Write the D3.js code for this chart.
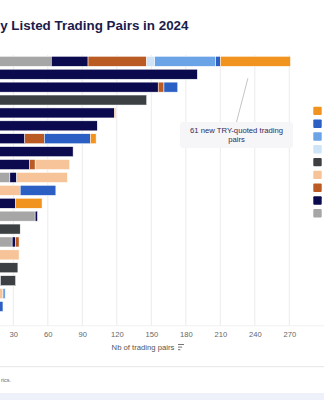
<!DOCTYPE html>
<html>
<head>
<meta charset="utf-8">
<script src="https://cdn.jsdelivr.net/npm/d3@7"></script>
<style>
  body { margin: 0; background: #fff; }
  svg { display: block; font-family: "Liberation Sans", Arial, sans-serif; }
</style>
</head>
<body>
<script>
// categories (labels sit left of the visible area, so they are not drawn)
var rows = ["R1","R2","R3","R4","R5","R6","R7","R8","R9","R10","R11",
            "R12","R13","R14","R15","R16","R17","R18","R19","R20","R21"];

// series, in stacking order from the left
var seriesNames = ["S9","S8","S7","S6","S5","S4","S3","S2","TRY"];
var seriesColors = ["#a6a6a6","#0b0a4f","#b95b23","#f6c498","#3d4043",
                    "#cfe4f7","#6aa3e6","#2b5fc4","#f0931f"];

var s9  = [63,0,0,0,0,0,0,0,0,27,0,0,49,0,29,0,0,0,0,0,0];
var s8  = [32,190,156,0,118,103,40,82,44,6,0,32,2,0,3,0,0,19,0,0,15];
var s7  = [51,0,5,0,0,0,17,0,5,0,0,0,0,0,3,0,0,0,0,0,0];
var s6  = [0,0,0,0,0,0,0,0,30,44,36,0,0,0,0,35,0,0,21,0,0];
var s5  = [0,0,0,146,0,0,0,0,0,0,0,0,0,36,0,0,34,13,0,0,0];
var s4  = [7,0,0,0,0,0,0,0,0,0,0,0,0,0,0,0,0,0,0,0,0];
var s3  = [53,0,0,0,0,0,0,0,0,0,0,0,0,0,0,0,0,0,2,0,0];
var s2  = [4,0,12,0,0,0,40,0,0,0,31,0,0,0,0,0,0,0,0,21,0];
var sTRY = [61,0,0,0,1,0,5,0,0,0,0,23,0,0,0,0,0,0,0,0,0];

var xTicks = [30,60,90,120,150,180,210,240,270];
var legendOrder = ["TRY","S2","S3","S4","S5","S6","S7","S8","S9"];

// the title is cut off at the left edge in the picture
var titleText = "y Listed Trading Pairs in 2024";
var xTitle = "Nb of trading pairs";
var noteLines = ["61 new TRY-quoted trading", "pairs"];
var noteValue = 234;
var sourceText = "rics.";

var width = 324, height = 400;
var plot = {left: -21.2, right: 323.8, top: 54.9, bottom: 325.8};

var table = rows.map(function(r, i) {
  return {row: r, S9: s9[i], S8: s8[i], S7: s7[i], S6: s6[i], S5: s5[i],
          S4: s4[i], S3: s3[i], S2: s2[i], TRY: sTRY[i]};
});

var x = d3.scaleLinear().domain([0, 300]).range([plot.left, plot.right]);
var y = d3.scaleBand().domain(rows).range([plot.top, plot.bottom]).paddingInner(0.225).paddingOuter(0.11);
var color = d3.scaleOrdinal().domain(seriesNames).range(seriesColors);

var svg = d3.select("body").append("svg")
            .attr("width", width).attr("height", height);

svg.append("text")
   .attr("x", 188.5).attr("y", 29.5)
   .attr("text-anchor", "end")
   .attr("font-size", 13.4).attr("font-weight", "bold")
   .attr("fill", "#1b1b4b")
   .text(titleText);

// grid
svg.append("g").selectAll("line").data(xTicks).enter().append("line")
   .attr("x1", function(d){return x(d);}).attr("x2", function(d){return x(d);})
   .attr("y1", plot.top).attr("y2", plot.bottom)
   .attr("stroke", "#ececec").attr("stroke-width", 1);

svg.append("line")
   .attr("x1", 0).attr("x2", width)
   .attr("y1", plot.bottom).attr("y2", plot.bottom)
   .attr("stroke", "#f0f0f0");

var stack = d3.stack().keys(seriesNames);
var layers = stack(table);

svg.append("g").selectAll("g").data(layers).enter().append("g")
   .attr("fill", function(d){return color(d.key);})
   .selectAll("rect").data(function(d){return d;}).enter().append("rect")
   .filter(function(d){return d[1] - d[0] > 0;})
   .attr("x", function(d){return x(d[0]);})
   .attr("width", function(d){return x(d[1]) - x(d[0]);})
   .attr("y", function(d){return y(d.data.row);})
   .attr("height", y.bandwidth())
   .attr("stroke", "#fff").attr("stroke-width", 0.5);

// x axis
var xAxis = d3.axisBottom(x).tickValues(xTicks).tickSize(0).tickPadding(6);
var ax = svg.append("g")
            .attr("transform", "translate(0," + plot.bottom + ")")
            .call(xAxis);
ax.select(".domain").remove();
ax.selectAll("text").attr("font-size", 7.6).attr("fill", "#666")
  .attr("font-family", "Liberation Sans, Arial, sans-serif");

svg.append("text")
   .attr("x", 143).attr("y", 349.5)
   .attr("text-anchor", "middle")
   .attr("font-size", 7.7).attr("fill", "#555")
   .text(xTitle);

// sort icon next to axis title
var icon = svg.append("g").attr("stroke", "#666").attr("stroke-width", 0.9);
[6, 4.2, 2.4].forEach(function(w, i) {
  icon.append("line").attr("x1", 178).attr("x2", 178 + w)
      .attr("y1", 344.5 + i * 2.6).attr("y2", 344.5 + i * 2.6);
});

// annotation
var first = rows[0];
var ax0 = x(noteValue), ay0 = y(first) + y.bandwidth() + 12;
var bx = 236.5, by = 122;
svg.append("line")
   .attr("x1", ax0).attr("y1", ay0).attr("x2", bx).attr("y2", by)
   .attr("stroke", "#aaa").attr("stroke-width", 0.7);
svg.append("rect")
   .attr("x", 180).attr("y", by).attr("width", 113).attr("height", 26)
   .attr("rx", 3).attr("fill", "#f6f6f8");
svg.append("g").selectAll("text").data(noteLines).enter().append("text")
   .attr("x", bx).attr("y", function(d, i){return 133 + i * 9.4;})
   .attr("text-anchor", "middle")
   .attr("font-size", 7.7).attr("fill", "#2d2d5a")
   .text(function(d){return d;});

// legend (labels run off the right edge)
svg.append("g").selectAll("rect").data(legendOrder).enter().append("rect")
   .attr("x", 313.3).attr("y", function(d, i){return 106.7 + i * 12.8;})
   .attr("width", 8.4).attr("height", 8.4).attr("rx", 1)
   .attr("fill", function(d){return color(d);});

// footer
svg.append("line")
   .attr("x1", 0).attr("x2", width).attr("y1", 366.7).attr("y2", 366.7)
   .attr("stroke", "#e6e6e6");
svg.append("text")
   .attr("x", 1).attr("y", 382)
   .attr("font-size", 5.5).attr("fill", "#666")
   .text(sourceText);
svg.append("rect")
   .attr("x", 0).attr("y", 393).attr("width", width).attr("height", 7)
   .attr("fill", "#eef1fa");
</script>
</body>
</html>
